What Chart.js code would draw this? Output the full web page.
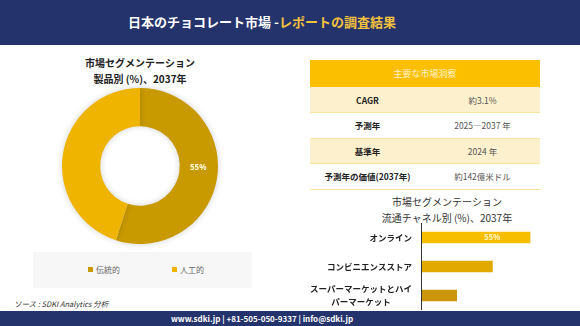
<!DOCTYPE html>
<html lang="ja">
<head>
    <meta charset="UTF-8">
    <title>日本のチョコレート市場</title>
    <script src="https://cdn.jsdelivr.net/npm/chart.js"></script>
    <style>
        body { margin: 0; font-family: "Noto Sans CJK JP", "Noto Sans", sans-serif; }
        #page { position: relative; width: 580px; height: 326px; background: #fff; overflow: hidden; }
        .abs { position: absolute; }
        #header { left: 0; top: 0; width: 580px; height: 45px; background: #25336c; }
        #header .t { position: absolute; left: 0; width: 524px; top: 12px; text-align: center; font-size: 13px; font-weight: bold; color: #fff; }
        #header .t span { color: #f4c23c; }
        .title { text-align: center; font-size: 10px; line-height: 16px; color: #222; }
        #legend { left: 33px; top: 252px; width: 219px; height: 36px; background: #f7f7f7; font-size: 8px; color: #666; }
        #legend .item { position: absolute; top: 12px; }
        #legend .sw { display: inline-block; width: 5px; height: 5px; margin-right: 3px; vertical-align: 1px; }
        table { border-collapse: collapse; font-size: 8.5px; }
        td { text-align: center; padding: 0; }
        #footer { left: 0; top: 311px; width: 580px; height: 15px; background: #25336c; color: #fff; font-size: 8px; font-weight: bold; text-align: center; line-height: 15px; }
    </style>
</head>
<body>
<div id="page">
    <div id="header" class="abs"><div class="t">日本のチョコレート市場 -<span>レポートの調査結果</span></div></div>

    <!-- 製品別 -->
    <div class="abs title" style="left:40px; top:55px; width:200px; font-weight:bold;">市場セグメンテーション<br>製品別 (%)、2037年</div>
    <canvas id="donut" class="abs" width="180" height="180" style="left:50px; top:76px;"></canvas>
    <div id="legend" class="abs"></div>

    <!-- 主要な市場洞察 -->
    <table id="insight" class="abs" style="left:310px; top:60px; width:230px;"></table>

    <!-- 流通チャネル別 -->
    <div class="abs title" style="left:347px; top:194px; width:200px; color:#333;">市場セグメンテーション<br>流通チャネル別 (%)、2037年</div>
    <canvas id="bars" class="abs" width="250" height="87" style="left:300px; top:223px;"></canvas>

    <div class="abs" style="left:14px; top:298px; font-size:7.5px; font-style:italic; color:#333;">ソース : SDKI Analytics 分析</div>
    <div id="footer" class="abs" style="width:524px;">www.sdki.jp | +81-505-050-9337 | info@sdki.jp</div>
    <div class="abs" style="left:524px; top:311px; width:56px; height:15px; background:#25336c;"></div>
</div>

<script>
    // 製品別
    const productLabels = ['伝統的', '人工的'];
    const productValues = [55, 45];
    const productColors = ['#c99a00', '#efb400'];

    // 流通チャネル別
    const channelLabels = ['オンライン', 'コンビニエンスストア', ['スーパーマーケットとハイ', 'パーマーケット']];
    const channelValues = [55, 36, 18];
    const channelColors = ['#f7be00', '#e2aa00', '#c9960c'];

    // 主要な市場洞察
    const insightHeader = '主要な市場洞察';
    const insightKeys = ['CAGR', '予測年', '基準年', '予測年の価値(2037年)'];
    const insightValues = ['約3.1%', '2025―2037 年', '2024 年', '約142億米ドル'];

    // 表
    const table = document.getElementById('insight');
    let html = '<tr style="height:27px;background:#fbbf00;"><td colspan="2" style="color:#fff3cf;font-size:9px;">' + insightHeader + '</td></tr>';
    insightKeys.forEach((k, i) => {
        const bg = i % 2 === 0 ? '#fdf0cc' : '#ffffff';
        html += '<tr style="height:25.5px;background:' + bg + ';border-bottom:1px solid #fbe3a0;">' +
            '<td style="width:50%;font-weight:bold;color:#222;">' + k + '</td>' +
            '<td style="color:#555;">' + insightValues[i] + '</td></tr>';
    });
    table.innerHTML = html;

    // 凡例
    const legend = document.getElementById('legend');
    productLabels.forEach((l, i) => {
        const d = document.createElement('div');
        d.className = 'item';
        d.style.left = (55 + i * 84) + 'px';
        d.innerHTML = '<span class="sw" style="background:' + productColors[i] + '"></span>' + l;
        legend.appendChild(d);
    });

    // ドーナツ内ラベル
    const donutLabel = {
        id: 'donutLabel',
        afterDatasetsDraw(chart) {
            const ctx = chart.ctx;
            const arc = chart.getDatasetMeta(0).data[0];
            const p = arc.tooltipPosition();
            ctx.save();
            ctx.fillStyle = '#fff6d8';
            ctx.font = 'bold 8px "Noto Sans", sans-serif';
            ctx.textAlign = 'center';
            ctx.textBaseline = 'middle';
            ctx.fillText(productValues[0] + '%', p.x, p.y - 7);
            ctx.restore();
        }
    };
    const donutShadow = {
        id: 'donutShadow',
        beforeDatasetsDraw(chart) {
            chart.ctx.save();
            chart.ctx.shadowColor = 'rgba(0,0,0,0.18)';
            chart.ctx.shadowBlur = 6;
        },
        afterDatasetsDraw(chart) {
            chart.ctx.restore();
        }
    };

    new Chart(document.getElementById('donut'), {
        type: 'doughnut',
        data: {
            labels: productLabels,
            datasets: [{
                data: productValues,
                backgroundColor: productColors,
                borderWidth: 0
            }]
        },
        options: {
            responsive: false,
            animation: false,
            cutout: '51%',
            layout: { padding: 12 },
            plugins: { legend: { display: false }, tooltip: { enabled: false } }
        },
        plugins: [donutShadow, donutLabel]
    });

    // 棒グラフのラベルと軸線
    const barDeco = {
        id: 'barDeco',
        afterDraw(chart) {
            const ctx = chart.ctx;
            const area = chart.chartArea;
            const y = chart.scales.y;
            ctx.save();
            ctx.strokeStyle = '#333';
            ctx.lineWidth = 1;
            ctx.beginPath();
            ctx.moveTo(area.left + 0.5, area.top);
            ctx.lineTo(area.left + 0.5, area.bottom);
            ctx.stroke();

            ctx.fillStyle = '#222';
            ctx.font = 'bold 8.5px "Noto Sans CJK JP", sans-serif';
            ctx.textBaseline = 'middle';
            channelLabels.forEach((lab, i) => {
                const cy = y.getPixelForValue(i);
                const right = area.left - 9;
                if (Array.isArray(lab)) {
                    const w = Math.max(...lab.map(s => ctx.measureText(s).width));
                    ctx.textAlign = 'center';
                    lab.forEach((s, j) => {
                        ctx.fillText(s, right - w / 2, cy + (j - (lab.length - 1) / 2) * 13);
                    });
                } else {
                    ctx.textAlign = 'right';
                    ctx.fillText(lab, right, cy);
                }
            });

            const bar = chart.getDatasetMeta(0).data[0];
            ctx.fillStyle = '#fff0b8';
            ctx.font = 'bold 8px "Noto Sans", sans-serif';
            ctx.textAlign = 'center';
            ctx.fillText(channelValues[0] + '%', bar.x - 38, bar.y);
            ctx.restore();
        }
    };

    new Chart(document.getElementById('bars'), {
        type: 'bar',
        data: {
            labels: channelLabels,
            datasets: [{
                data: channelValues,
                backgroundColor: channelColors,
                barThickness: 11
            }]
        },
        options: {
            indexAxis: 'y',
            responsive: false,
            animation: false,
            layout: { padding: { left: 121, right: 10, top: 0, bottom: 0 } },
            scales: {
                x: { display: false, min: 0, max: 60 },
                y: { display: false }
            },
            plugins: { legend: { display: false }, tooltip: { enabled: false } }
        },
        plugins: [barDeco]
    });
</script>
</body>
</html>
